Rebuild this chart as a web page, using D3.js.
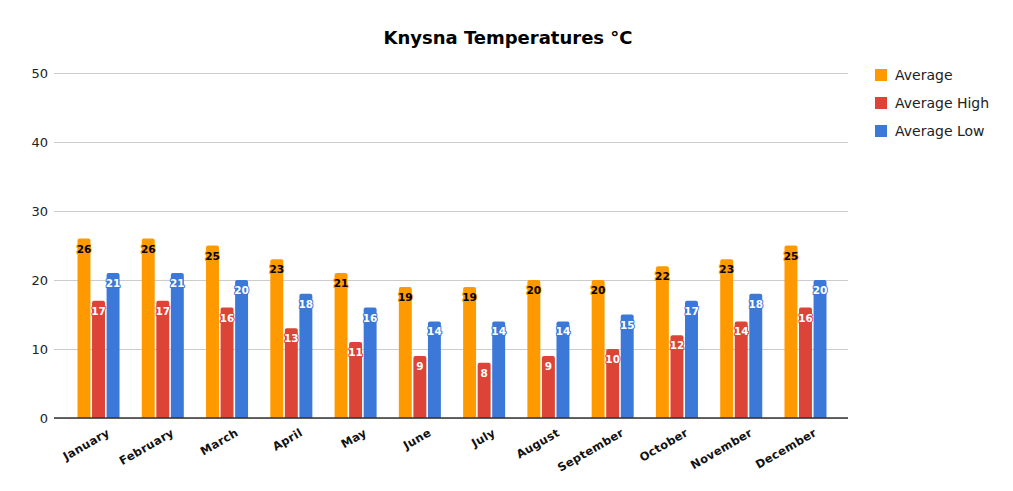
<!DOCTYPE html>
<html>
<head>
<meta charset="utf-8">
<script src="https://cdn.jsdelivr.net/npm/d3@7"></script>
<style>
  body { margin: 0; background: #fff; }
  svg { display: block; }
</style>
</head>
<body>
<svg width="1013" height="491"></svg>
<script>
// monthly temperatures for Knysna
var months = ["January", "February", "March", "April", "May", "June",
              "July", "August", "September", "October", "November", "December"];
var average = [26, 26, 25, 23, 21, 19, 19, 20, 20, 22, 23, 25];
var averageHigh = [17, 17, 16, 13, 11, 9, 8, 9, 10, 12, 14, 16];
var averageLow = [21, 21, 20, 18, 16, 14, 14, 14, 15, 17, 18, 20];
var seriesNames = ["Average", "Average High", "Average Low"];
var yTicks = [0, 10, 20, 30, 40, 50];

var colors = ["#ff9900", "#db4437", "#3c78d8"];
var labelColors = ["#000", "#fff", "#fff"];
var font = "'DejaVu Sans', Verdana, sans-serif";

var svg = d3.select("svg");
var plot = {left: 54, right: 848, top: 73, bottom: 418};

var series = [average, averageHigh, averageLow];
var rows = [];
months.forEach(function(m, i) {
    series.forEach(function(s, j) {
        rows.push({month: m, series: j, value: s[i]});
    });
});

var x = d3.scaleBand()
    .domain(months)
    .range([plot.left + 1, plot.right + 1])
    .paddingInner(0.346)
    .paddingOuter(0.35);

var xs = d3.scaleBand()
    .domain(d3.range(series.length))
    .range([0, x.bandwidth()])
    .paddingInner(0.11);

var y = d3.scaleLinear()
    .domain([0, 50])
    .range([plot.bottom, plot.top]);

// title
svg.append("text")
    .attr("x", 508)
    .attr("y", 44)
    .attr("text-anchor", "middle")
    .style("font-family", font)
    .style("font-weight", "bold")
    .style("font-size", "18px")
    .text("Knysna Temperatures °C");

// gridlines + y labels
var yAxis = svg.append("g")
    .attr("transform", "translate(" + plot.left + ",0)")
    .call(d3.axisLeft(y).tickValues(yTicks)
        .tickSize(-(plot.right - plot.left)).tickPadding(6));
yAxis.select(".domain").remove();
yAxis.selectAll(".tick line").attr("stroke", "#cccccc");
yAxis.selectAll(".tick text")
    .style("font-family", font)
    .style("font-size", "13px")
    .attr("fill", "#222");

// bars
var bars = svg.append("g");
bars.selectAll("path")
    .data(rows)
    .enter()
    .append("path")
    .attr("fill", function(d) { return colors[d.series]; })
    .attr("d", function(d) {
        var x0 = x(d.month) + xs(d.series), w = xs.bandwidth();
        var y0 = y(d.value), y1 = y(0), r = 2;
        return "M" + x0 + "," + y1 +
               "V" + (y0 + r) +
               "Q" + x0 + "," + y0 + " " + (x0 + r) + "," + y0 +
               "H" + (x0 + w - r) +
               "Q" + (x0 + w) + "," + y0 + " " + (x0 + w) + "," + (y0 + r) +
               "V" + y1 + "Z";
    });

// value labels with halo
bars.selectAll("text")
    .data(rows)
    .enter()
    .append("text")
    .attr("x", function(d) { return x(d.month) + xs(d.series) + xs.bandwidth() / 2; })
    .attr("y", function(d) { return y(d.value) + 14; })
    .attr("text-anchor", "middle")
    .style("font-family", font)
    .style("font-weight", "bold")
    .style("font-size", "10.5px")
    .style("paint-order", "stroke")
    .attr("stroke", function(d) { return colors[d.series]; })
    .attr("stroke-width", 2)
    .attr("stroke-linejoin", "round")
    .attr("fill", function(d) { return labelColors[d.series]; })
    .text(function(d) { return d.value; });

// baseline
svg.append("line")
    .attr("x1", plot.left).attr("x2", plot.right)
    .attr("y1", y(0)).attr("y2", y(0))
    .attr("stroke", "#333")
    .attr("stroke-width", 1.5);

// month labels, rotated
svg.append("g").selectAll("text")
    .data(months)
    .enter()
    .append("text")
    .attr("transform", function(d) {
        return "translate(" + (x(d) + x.bandwidth() / 2 + 8) + "," + 428 + ") rotate(-30)";
    })
    .attr("text-anchor", "end")
    .attr("dy", "0.7em")
    .style("font-family", font)
    .style("font-weight", "bold")
    .style("font-size", "11.5px")
    .style("letter-spacing", "0.3px")
    .attr("fill", "#111")
    .text(function(d) { return d; });

// legend
var legend = svg.append("g")
    .selectAll("g")
    .data(seriesNames)
    .enter()
    .append("g")
    .attr("transform", function(d, i) { return "translate(875," + (69 + i * 28) + ")"; });
legend.append("rect")
    .attr("width", 12).attr("height", 12)
    .attr("fill", function(d, i) { return colors[i]; });
legend.append("text")
    .attr("x", 20).attr("y", 6)
    .attr("dy", "0.35em")
    .style("font-family", font)
    .style("font-size", "14px")
    .attr("fill", "#222")
    .text(function(d) { return d; });
</script>
</body>
</html>
